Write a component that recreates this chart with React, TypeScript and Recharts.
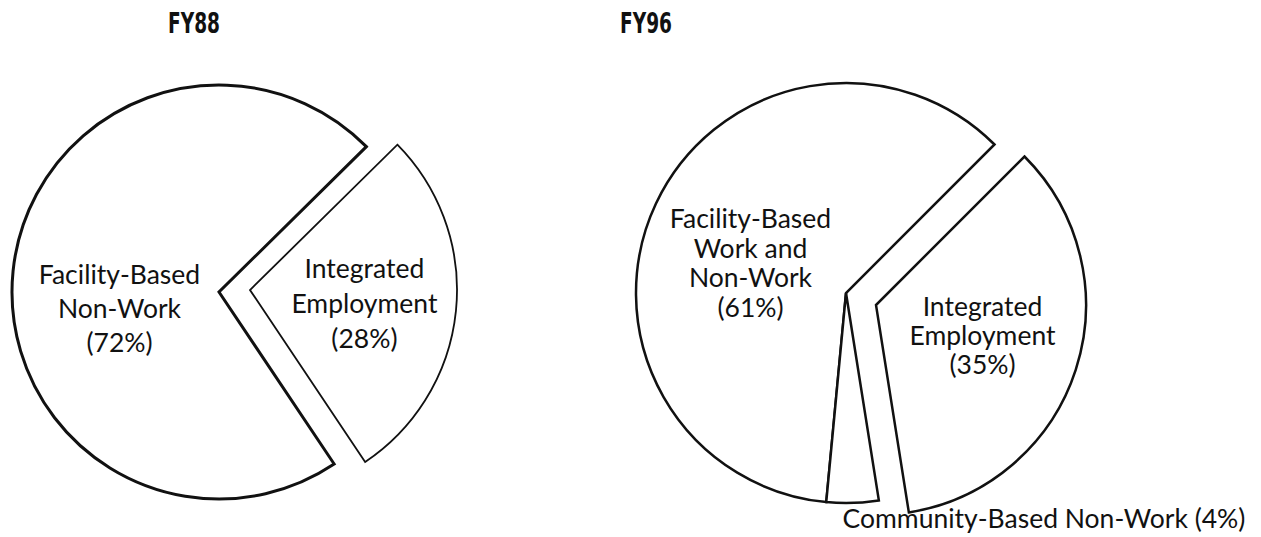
import { PieChart, Pie, Cell } from 'recharts';

// FY88
const FY88_NAMES = ['Facility-Based Non-Work', 'Integrated Employment'];
const FY88_VALUES = [72, 28];
const FY88_LABELS = [
  ['Facility-Based', 'Non-Work', '(72%)'],
  ['Integrated', 'Employment', '(28%)'],
];

// FY96
const FY96_NAMES = ['Facility-Based Work and Non-Work', 'Community-Based Non-Work', 'Integrated Employment'];
const FY96_VALUES = [61, 4, 35];
const FY96_LABELS = [
  ['Facility-Based', 'Work and', 'Non-Work', '(61%)'],
  ['Community-Based Non-Work (4%)'],
  ['Integrated', 'Employment', '(35%)'],
];

const TITLES = ['FY88', 'FY96'];

const W = 1261;
const H = 537;
const FONT = 'Lato, "Open Sans", sans-serif';
const FONT_SIZE = 26.5;
const RAD = Math.PI / 180;

const fy88 = FY88_NAMES.map((name, i) => ({ name, value: FY88_VALUES[i] }));
const fy96 = FY96_NAMES.map((name, i) => ({ name, value: FY96_VALUES[i] }));

type LabelSpec = { r: number; dx: number; dy: number; lh: number; anchor?: 'middle' | 'start' };

function makeLabel(lines: string[][], specs: Record<number, LabelSpec>) {
  return (props: any) => {
    const { cx, cy, midAngle, index } = props;
    const s = specs[index];
    if (!s) return null;
    const x = cx + s.r * Math.cos(midAngle * RAD) + s.dx;
    const y = cy - s.r * Math.sin(midAngle * RAD) + s.dy;
    const ls = lines[index];
    const first = y - ((ls.length - 1) * s.lh) / 2 + 9;
    return (
      <text
        key={`lbl-${index}`}
        x={x}
        y={first}
        textAnchor={s.anchor ?? 'middle'}
        fontFamily={FONT}
        fontSize={FONT_SIZE}
        fill="#111"
      >
        {ls.map((l, i) => (
          <tspan key={i} x={x} y={first + i * s.lh}>
            {l}
          </tspan>
        ))}
      </text>
    );
  };
}

export default function App() {
  return (
    <div style={{ position: 'relative', width: W, height: H, background: '#fff' }}>
      <style>{'body{margin:0}'}</style>
      <PieChart width={W} height={H} margin={{ top: 0, right: 0, bottom: 0, left: 0 }}>
        {/* FY88 main */}
        <Pie
          data={fy88}
          dataKey="value"
          nameKey="name"
          cx={219}
          cy={292}
          outerRadius={207}
          startAngle={44.6}
          endAngle={404.6}
          isAnimationActive={false}
          labelLine={false}
          label={makeLabel(FY88_LABELS, { 0: { r: 100, dx: 0, dy: 27, lh: 34 } })}
        >
          <Cell fill="#fff" stroke="#111" strokeWidth={3} strokeLinejoin="miter" />
          <Cell fill="none" stroke="none" />
        </Pie>
        {/* FY88 exploded */}
        <Pie
          data={fy88}
          dataKey="value"
          nameKey="name"
          cx={250}
          cy={290}
          outerRadius={207}
          startAngle={44.6}
          endAngle={404.6}
          isAnimationActive={false}
          labelLine={false}
          label={makeLabel(FY88_LABELS, { 1: { r: 115, dx: 0, dy: 2, lh: 35 } })}
        >
          <Cell fill="none" stroke="none" />
          <Cell fill="#fff" stroke="#111" strokeWidth={1.8} strokeLinejoin="miter" />
        </Pie>
        {/* FY96 main */}
        <Pie
          data={fy96}
          dataKey="value"
          nameKey="name"
          cx={846}
          cy={293}
          outerRadius={210}
          startAngle={45}
          endAngle={405}
          isAnimationActive={false}
          labelLine={false}
          label={makeLabel(FY96_LABELS, {
            0: { r: 100, dx: -5, dy: 13, lh: 29.5 },
            1: { r: 210, dx: -10, dy: 16, lh: 30, anchor: 'start' },
          })}
        >
          <Cell fill="#fff" stroke="#111" strokeWidth={2.5} strokeLinejoin="miter" />
          <Cell fill="#fff" stroke="#111" strokeWidth={2.5} strokeLinejoin="miter" />
          <Cell fill="none" stroke="none" />
        </Pie>
        {/* FY96 exploded */}
        <Pie
          data={fy96}
          dataKey="value"
          nameKey="name"
          cx={876}
          cy={305}
          outerRadius={210}
          startAngle={45}
          endAngle={405}
          isAnimationActive={false}
          labelLine={false}
          label={makeLabel(FY96_LABELS, { 2: { r: 112, dx: 0, dy: -4, lh: 29 } })}
        >
          <Cell fill="none" stroke="none" />
          <Cell fill="none" stroke="none" />
          <Cell fill="#fff" stroke="#111" strokeWidth={2.5} strokeLinejoin="miter" />
        </Pie>
      </PieChart>
      <svg width={W} height={H} style={{ position: 'absolute', left: 0, top: 0, pointerEvents: 'none' }}>
        {TITLES.map((t, i) => (
          <text
            key={t}
            x={(i === 0 ? 194 : 646) - 26}
            y={33}
            textLength={52}
            lengthAdjust="spacingAndGlyphs"
            fontFamily='"Liberation Sans Narrow", "DejaVu Sans Condensed", sans-serif'
            fontWeight="bold"
            fontSize={28}
            fill="#111"
          >
            {t}
          </text>
        ))}
      </svg>
    </div>
  );
}
